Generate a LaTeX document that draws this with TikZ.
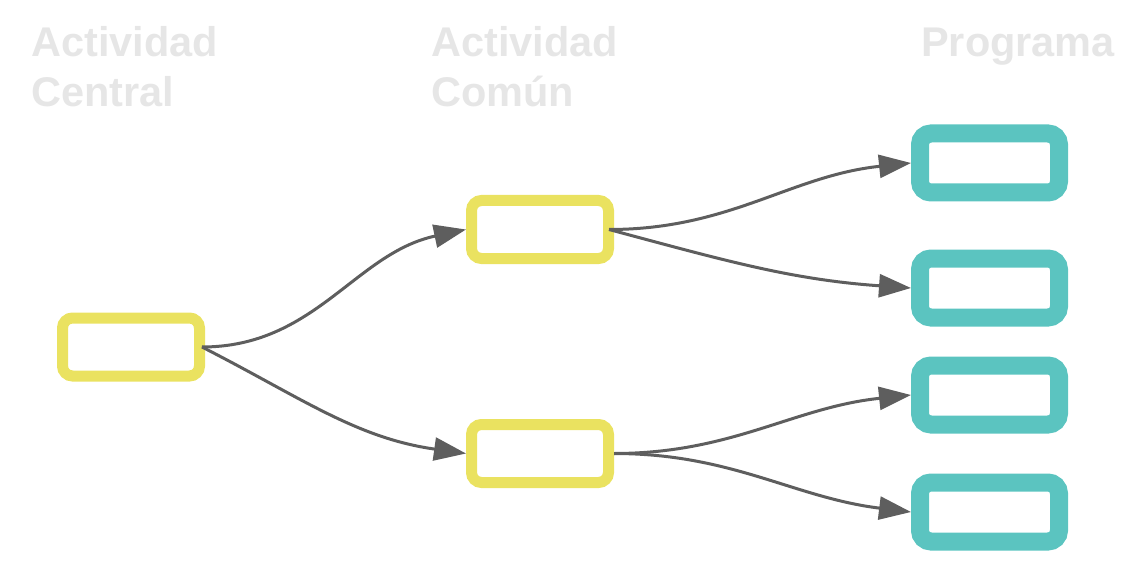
\documentclass[tikz,border=0pt]{standalone}
\usepackage{fontspec}
\setmainfont{Liberation Sans}
\usetikzlibrary{arrows.meta}
\definecolor{boxyellow}{HTML}{EAE260}
\definecolor{boxteal}{HTML}{5BC4C0}
\definecolor{arrowgray}{HTML}{5E5E5E}
\definecolor{headgray}{HTML}{E6E6E6}
\begin{document}
\begin{tikzpicture}[x=1pt,y=1pt,
  ybox/.style={draw=boxyellow, line width=11pt, rounded corners=10pt, minimum width=137pt, minimum height=58pt, inner sep=0pt},
  tbox/.style={draw=boxteal, line width=18pt, rounded corners=11pt, minimum width=139pt, minimum height=59pt, inner sep=0pt},
  conn/.style={draw=arrowgray, line width=3pt, -{Triangle[length=32pt,width=23pt]}},
  head/.style={text=headgray, font=\fontsize{41.5}{50}\selectfont\bfseries, anchor=base west, inner sep=0pt}
]
\useasboundingbox (0,0) rectangle (1140,574);
% headers
\node[head] (h1a) at (31,517) {Actividad};
\node[head] (h1b) at (31,467) {Central};
\node[head] (h2a) at (431,517) {Actividad};
\node[head] (h2b) at (431,467) {Común};
\node[head] (h3a) at (921,517) {Programa};
% boxes
\node[ybox] (c)  at (131,227) {};
\node[ybox] (m1) at (540,344.5) {};
\node[ybox] (m2) at (540,120.5) {};
\node[tbox] (t1) at (989.5,411) {};
\node[tbox] (t2) at (989.5,286) {};
\node[tbox] (t3) at (989.5,179) {};
\node[tbox] (t4) at (989.5,62) {};
% connectors
\draw[conn] ([xshift=-3pt]c.east) to[out=0, in=192] (m1.west);
\draw[conn] ([xshift=-3pt]c.east) to[out=-27, in=172] (m2.west);
\draw[conn] ([xshift=-5pt]m1.east) to[out=0, in=186] (t1.west);
\draw[conn] ([xshift=-5pt]m1.east) to[out=-15, in=176] (t2.west);
\draw[conn] (m2.east) to[out=0, in=186] (t3.west);
\draw[conn] (m2.east) to[out=0, in=173] (t4.west);
\end{tikzpicture}
\end{document}
